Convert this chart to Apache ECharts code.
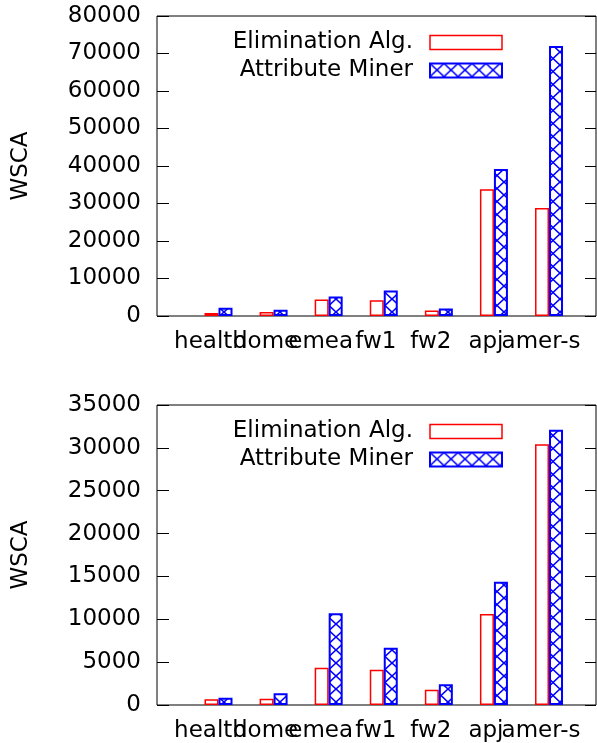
<!DOCTYPE html>
<html>
<head>
<meta charset="utf-8">
<script src="https://cdn.jsdelivr.net/npm/echarts@6/dist/echarts.min.js"></script>
<style>
  html, body { margin: 0; padding: 0; background: #fff; }
  #main { width: 597px; height: 743px; }
</style>
</head>
<body>
<div id="main"></div>
<script>
const categories = ['health', 'dome', 'emea', 'fw1', 'fw2', 'apj', 'amer-s'];
const elimTop = [800, 1100, 4400, 4200, 1500, 33800, 28800];
const minerTop = [2200, 1700, 5200, 6800, 2000, 39200, 72000];
const elimBottom = [660, 740, 4350, 4120, 1790, 10620, 30410];
const minerBottom = [850, 1360, 10700, 6690, 2410, 14390, 32120];
const seriesNames = ['Elimination Alg.', 'Attribute Miner'];

const FONT = 'DejaVu Sans';
const FS = 23;

// crosshatch tile for the blue bars
function hatch() {
  const c = document.createElement('canvas');
  c.width = 14; c.height = 13;
  const g = c.getContext('2d');
  g.fillStyle = '#fff';
  g.fillRect(0, 0, 14, 13);
  g.strokeStyle = '#0000ff';
  g.lineWidth = 1.6;
  g.beginPath();
  g.moveTo(0, 0); g.lineTo(14, 13);
  g.moveTo(14, 0); g.lineTo(0, 13);
  g.stroke();
  return c;
}
const pattern = { image: hatch(), repeat: 'repeat' };

const redStyle = { color: '#fff', borderColor: '#ff0000', borderWidth: 1.5 };
const blueStyle = { color: pattern, borderColor: '#0000ff', borderWidth: 2 };

function toPoints(arr) {
  return arr.map((v, i) => [i, v]);
}

const gridTops = [16, 405];
const yMax = [80000, 35000];
const yStep = [10000, 5000];

// the category names overlap in pairs, so even and odd labels live on two stacked x axes
function xAxis(g, parity) {
  return {
    type: 'value', gridIndex: g, position: 'bottom', min: -1.1165, max: 6.853,
    axisLine: { show: false, onZero: false }, axisTick: { show: false }, splitLine: { show: false },
    axisLabel: {
      customValues: categories.map((c, i) => i).filter(i => i % 2 === parity),
      formatter: v => categories[Math.round(v)],
      fontFamily: FONT, fontSize: FS, color: '#000', margin: 15,
      padding: [0, 16, 0, 0], hideOverlap: false,
      showMinLabel: true, showMaxLabel: true
    }
  };
}
const xAxes = [xAxis(0, 0), xAxis(1, 0), xAxis(0, 1), xAxis(1, 1)];

const yAxes = [];
[0, 1].forEach(g => {
  yAxes.push({
    type: 'value', gridIndex: g, position: 'left', min: 0, max: yMax[g], interval: yStep[g],
    name: 'WSCA', nameLocation: 'middle', nameGap: 124, nameRotate: 90,
    nameTextStyle: { fontFamily: FONT, fontSize: FS, color: '#000' },
    axisLine: { show: false, onZero: false },
    axisTick: { show: true, inside: true, length: 12, lineStyle: { color: '#000' } },
    splitLine: { show: false },
    axisLabel: { fontFamily: FONT, fontSize: FS, color: '#000', margin: 16, formatter: v => String(v) }
  });
  yAxes.push({
    type: 'value', gridIndex: g, position: 'right', min: 0, max: yMax[g], interval: yStep[g],
    axisLine: { show: false, onZero: false },
    axisTick: { show: true, inside: true, length: 11, lineStyle: { color: '#000' } },
    splitLine: { show: false },
    axisLabel: { show: false }
  });
});

function barSeries(name, data, g, style) {
  return {
    type: 'bar', name: name, xAxisIndex: g, yAxisIndex: g * 2,
    data: toPoints(data), barWidth: 14, barGap: '0%',
    itemStyle: style, silent: true, animation: false
  };
}

const legendBase = {
  orient: 'vertical', align: 'right', right: 89,
  itemWidth: 72, itemHeight: 14, itemGap: 3,
  textStyle: { fontFamily: FONT, fontSize: FS, color: '#000', lineHeight: 25, padding: [0, 12, 0, 0] },
  data: [
    { name: seriesNames[0], icon: 'rect', itemStyle: redStyle },
    { name: seriesNames[1], icon: 'rect', itemStyle: blueStyle }
  ],
  selectedMode: false
};

const chart = echarts.init(document.getElementById('main'), null, { renderer: 'canvas' });
chart.setOption({
  animation: false,
  backgroundColor: '#fff',
  grid: gridTops.map(t => ({
    left: 157, right: 1, top: t, height: 300,
    show: true, borderColor: '#000', borderWidth: 1, backgroundColor: 'transparent'
  })),
  xAxis: xAxes,
  yAxis: yAxes,
  legend: [
    Object.assign({}, legendBase, { top: 25 }),
    Object.assign({}, legendBase, { top: 414 })
  ],
  series: [
    barSeries(seriesNames[0], elimTop, 0, redStyle),
    barSeries(seriesNames[1], minerTop, 0, blueStyle),
    barSeries(seriesNames[0], elimBottom, 1, redStyle),
    barSeries(seriesNames[1], minerBottom, 1, blueStyle)
  ]
});
</script>
</body>
</html>
